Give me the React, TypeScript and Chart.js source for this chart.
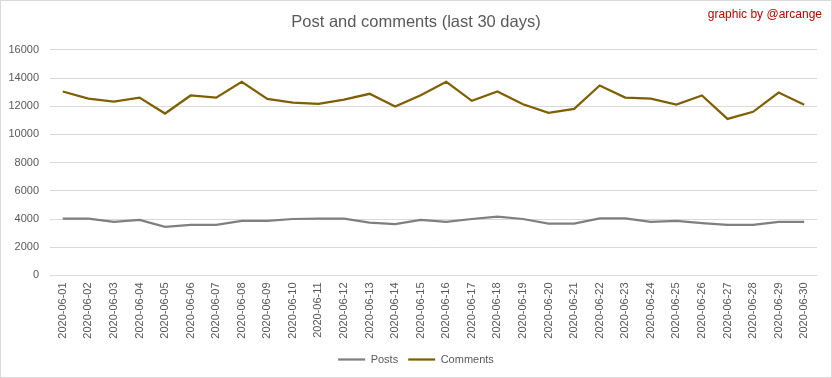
import React, { useEffect, useRef } from "react";
import { Chart, registerables } from "chart.js";

Chart.register(...registerables);

const dates: string[] = [
  "2020-06-01", "2020-06-02", "2020-06-03", "2020-06-04", "2020-06-05", "2020-06-06",
  "2020-06-07", "2020-06-08", "2020-06-09", "2020-06-10", "2020-06-11", "2020-06-12",
  "2020-06-13", "2020-06-14", "2020-06-15", "2020-06-16", "2020-06-17", "2020-06-18",
  "2020-06-19", "2020-06-20", "2020-06-21", "2020-06-22", "2020-06-23", "2020-06-24",
  "2020-06-25", "2020-06-26", "2020-06-27", "2020-06-28", "2020-06-29", "2020-06-30",
];

const posts: number[] = [
  4020, 4020, 3790, 3930, 3450, 3590, 3590, 3860, 3860, 4000,
  4020, 4020, 3740, 3640, 3930, 3790, 4000, 4160, 4000, 3670,
  3670, 4050, 4050, 3790, 3860, 3710, 3590, 3590, 3790, 3790,
];

const comments: number[] = [
  13040, 12540, 12330, 12610, 11480, 12760, 12610, 13730, 12520, 12260,
  12170, 12470, 12880, 11980, 12780, 13730, 12380, 13040, 12140, 11530,
  11810, 13470, 12610, 12540, 12120, 12760, 11100, 11600, 12970, 12100,
];

const titleText = "Post and comments (last 30 days)";
const watermarkText = "graphic by @arcange";

const FONT = "'Liberation Sans', Arial, sans-serif";

const framePlugin = {
  id: "frame",
  beforeDraw(chart: any) {
    const { ctx, width, height } = chart;
    ctx.save();
    ctx.fillStyle = "#ffffff";
    ctx.fillRect(0, 0, width, height);
    ctx.strokeStyle = "#d9d9d9";
    ctx.lineWidth = 1;
    ctx.strokeRect(0.5, 0.5, width - 1, height - 1);
    ctx.restore();
  },
  afterDraw(chart: any) {
    const { ctx, width } = chart;
    ctx.save();
    ctx.fillStyle = "#C00000";
    ctx.font = `12px ${FONT}`;
    ctx.textAlign = "right";
    ctx.textBaseline = "middle";
    ctx.fillText(watermarkText, width - 10, 15);
    ctx.restore();
  },
};

export default function App() {
  const ref = useRef<HTMLCanvasElement>(null);

  useEffect(() => {
    if (!ref.current) return;
    const chart = new Chart(ref.current, {
      type: "line",
      data: {
        labels: dates,
        datasets: [
          {
            label: "Posts",
            data: posts,
            borderColor: "#7F7F7F",
            backgroundColor: "#7F7F7F",
            borderWidth: 2.25,
            pointRadius: 0,
            tension: 0,
          },
          {
            label: "Comments",
            data: comments,
            borderColor: "#7F6000",
            backgroundColor: "#7F6000",
            borderWidth: 2.25,
            pointRadius: 0,
            tension: 0,
          },
        ],
      },
      options: {
        animation: false,
        responsive: false,
        devicePixelRatio: 1,
        layout: { padding: { left: 0, right: 0, top: 0, bottom: 3 } },
        plugins: {
          title: {
            display: true,
            text: titleText,
            color: "#595959",
            font: { family: FONT, size: 16.5, weight: "normal" },
            padding: { top: 13, bottom: 17 },
          },
          legend: {
            position: "bottom",
            labels: {
              color: "#595959",
              font: { family: FONT, size: 11 },
              usePointStyle: true,
              pointStyle: "line",
              pointStyleWidth: 27,
              padding: 10,
            },
          },
          tooltip: { enabled: false },
        },
        scales: {
          x: {
            offset: true,
            grid: { display: false, drawTicks: false },
            border: { display: false },
            ticks: {
              color: "#595959",
              font: { family: FONT, size: 11 },
              minRotation: 90,
              maxRotation: 90,
              autoSkip: false,
              padding: 7,
            },
            afterFit: (s: any) => {
              s.height = 68.6;
            },
          },
          y: {
            min: 0,
            max: 16000,
            grid: { color: "#d9d9d9", drawTicks: false },
            border: { display: false },
            ticks: {
              stepSize: 2000,
              color: "#595959",
              font: { family: FONT, size: 11 },
              padding: 11,
              callback: (v: any) => String(v),
            },
            afterFit: (s: any) => {
              s.width = 50;
            },
          },
          yRight: {
            position: "right",
            display: true,
            grid: { display: false, drawTicks: false },
            border: { display: false },
            ticks: { display: false },
            afterFit: (s: any) => {
              s.width = 15;
            },
          },
        },
      },
      plugins: [framePlugin],
    });
    return () => chart.destroy();
  }, []);

  return (
    <div style={{ position: "fixed", left: 0, top: 0, width: 832, height: 378 }}>
      <canvas ref={ref} width={832} height={378} style={{ display: "block" }} />
    </div>
  );
}
